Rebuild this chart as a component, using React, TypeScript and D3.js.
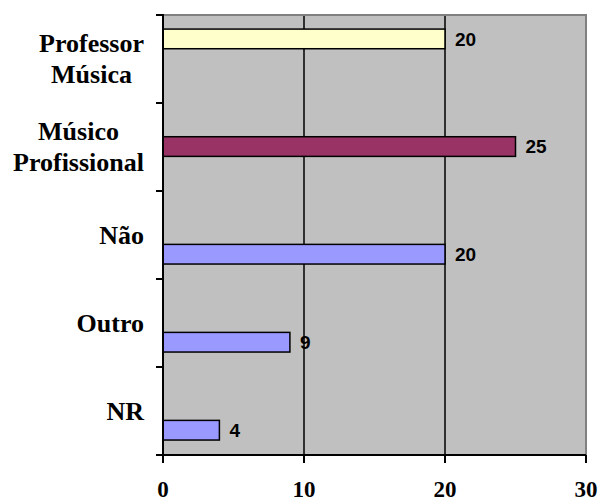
import React, { useEffect, useRef } from "react";
import * as d3 from "d3";

const categories = ["Professor Música", "Músico Profissional", "Não", "Outro", "NR"];
const categoryLines = [["Professor", "Música"], ["Músico", "Profissional"], ["Não"], ["Outro"], ["NR"]];
const seriesA: (number | null)[] = [20, null, null, null, null];
const seriesB: (number | null)[] = [null, 25, null, null, null];
const seriesC: (number | null)[] = [null, null, 20, 9, 4];
const seriesColors = ["#FFFFCC", "#993366", "#9999FF"];
const xTicks = [0, 10, 20, 30];

const W = 600;
const H = 502;
const left = 163;
const right = 586;
const top = 15;
const bottom = 455;
const SERIF = "'Liberation Serif', 'Times New Roman', serif";
const SANS = "'Liberation Sans', Arial, sans-serif";

export default function App() {
  const ref = useRef<SVGSVGElement>(null);

  useEffect(() => {
    const svg = d3.select(ref.current);
    svg.selectAll("*").remove();

    const x = d3.scaleLinear().domain([0, 30]).range([left, right]);
    const y = d3.scaleBand<string>().domain(categories).range([top, bottom]);
    const bw = y.bandwidth();
    const sub = d3.scaleBand<number>().domain([0, 1, 2]).range([bw * 0.16, bw * 0.83]);

    svg.append("rect")
      .attr("x", left).attr("y", top)
      .attr("width", right - left).attr("height", bottom - top)
      .attr("fill", "#C0C0C0");

    svg.append("g").selectAll("line")
      .data(xTicks.filter((t) => t > 0 && t < 30))
      .join("line")
      .attr("x1", (d) => x(d)).attr("x2", (d) => x(d))
      .attr("y1", top).attr("y2", bottom)
      .attr("stroke", "#000").attr("stroke-width", 1.5);

    svg.append("path")
      .attr("d", `M${left},${top}H${right}V${bottom}`)
      .attr("fill", "none").attr("stroke", "#808080").attr("stroke-width", 2);

    const allSeries = [seriesA, seriesB, seriesC];
    const barData: { cat: string; s: number; v: number }[] = [];
    allSeries.forEach((arr, s) => {
      arr.forEach((v, i) => {
        if (v != null) barData.push({ cat: categories[i], s, v });
      });
    });

    const bars = svg.append("g");
    bars.selectAll("rect")
      .data(barData)
      .join("rect")
      .attr("x", x(0))
      .attr("y", (d) => (y(d.cat) as number) + (sub(d.s) as number))
      .attr("width", (d) => x(d.v) - x(0))
      .attr("height", sub.bandwidth())
      .attr("fill", (d) => seriesColors[d.s])
      .attr("stroke", "#000")
      .attr("stroke-width", 1.5);

    bars.selectAll("text")
      .data(barData)
      .join("text")
      .attr("x", (d) => x(d.v) + 10)
      .attr("y", (d) => (y(d.cat) as number) + (sub(d.s) as number) + sub.bandwidth() / 2)
      .attr("dy", "0.36em")
      .style("font-family", SANS)
      .style("font-weight", "bold")
      .style("font-size", "19px")
      .attr("fill", "#000")
      .text((d) => String(d.v));

    svg.append("line")
      .attr("x1", left).attr("x2", left).attr("y1", top - 1).attr("y2", bottom)
      .attr("stroke", "#000").attr("stroke-width", 2);
    const yBounds = [...categories.map((c) => y(c) as number), bottom];
    svg.append("g").selectAll("line")
      .data(yBounds)
      .join("line")
      .attr("x1", left - 7).attr("x2", left)
      .attr("y1", (d) => d).attr("y2", (d) => d)
      .attr("stroke", "#000").attr("stroke-width", 2);

    svg.append("line")
      .attr("x1", left - 7).attr("x2", right).attr("y1", bottom).attr("y2", bottom)
      .attr("stroke", "#000").attr("stroke-width", 2);
    svg.append("g").selectAll("line")
      .data(xTicks)
      .join("line")
      .attr("x1", (d) => x(d)).attr("x2", (d) => x(d))
      .attr("y1", bottom).attr("y2", bottom + 8)
      .attr("stroke", "#000").attr("stroke-width", 2);
    svg.append("g").selectAll("text")
      .data(xTicks)
      .join("text")
      .attr("x", (d) => x(d)).attr("y", 497)
      .attr("text-anchor", "middle")
      .style("font-family", SERIF)
      .style("font-weight", "bold")
      .style("font-size", "23px")
      .attr("fill", "#000")
      .text((d) => String(d));

    const lineH = 31;
    const labelRight = 144;
    categories.forEach((c, i) => {
      const lines = categoryLines[i];
      const cy = (y(c) as number) + bw / 2;
      const g = svg.append("g");
      const texts = g.selectAll("text")
        .data(lines)
        .join("text")
        .attr("y", (_, k) => cy + (k - (lines.length - 1) / 2) * lineH)
        .attr("dy", "0.33em")
        .attr("text-anchor", "middle")
        .style("font-family", SERIF)
        .style("font-weight", "bold")
        .style("font-size", "26px")
        .attr("fill", "#000")
        .text((d) => d);
      let maxW = 0;
      texts.each(function () {
        const w = (this as SVGTextElement).getComputedTextLength();
        if (w > maxW) maxW = w;
      });
      texts.attr("x", labelRight - maxW / 2);
    });
  }, []);

  return (
    <svg ref={ref} width={W} height={H} style={{ position: "absolute", left: 0, top: 0 }} />
  );
}
